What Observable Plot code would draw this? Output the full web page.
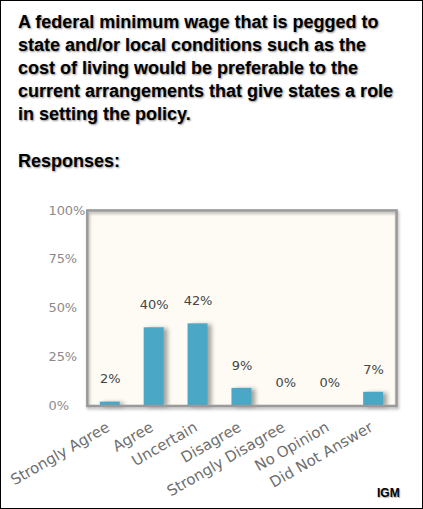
<!DOCTYPE html>
<html>
<head>
<meta charset="utf-8">
<script src="https://cdn.jsdelivr.net/npm/d3@7"></script>
<script src="https://cdn.jsdelivr.net/npm/@observablehq/plot@0.6"></script>
<style>
  html, body { margin: 0; padding: 0; background: #fff; }
  #wrap { position: relative; width: 423px; height: 509px; box-sizing: border-box; border: 1px solid #000; background: #fff; overflow: hidden; }
  #title { position: absolute; left: 17px; top: 10px; font-family: "Liberation Sans", Arial, sans-serif; font-weight: bold; font-size: 18px; line-height: 23px; color: #000; white-space: nowrap; text-shadow: 1px 1px 2px rgba(0,0,0,0.45); }
  #resp { position: absolute; left: 17px; top: 149px; font-family: "Liberation Sans", Arial, sans-serif; font-weight: bold; font-size: 18px; line-height: 23px; color: #000; text-shadow: 1px 1px 2px rgba(0,0,0,0.45); }
  #chart { position: absolute; left: -1px; top: 189px; }
  #igm { position: absolute; left: 376px; top: 485px; font-family: "Liberation Sans", Arial, sans-serif; font-weight: bold; font-size: 12px; color: #000; text-shadow: 1px 1px 1px rgba(0,0,0,0.35); }
</style>
</head>
<body>
<div id="wrap">
  <div id="title">A federal minimum wage that is pegged to<br>state and/or local conditions such as the<br>cost of living would be preferable to the<br>current arrangements that give states a role<br>in setting the policy.</div>
  <div id="resp">Responses:</div>
  <div id="chart"></div>
  <div id="igm">IGM</div>
</div>
<script>
const categories = ["Strongly Agree", "Agree", "Uncertain", "Disagree", "Strongly Disagree", "No Opinion", "Did Not Answer"];
const values = [2, 40, 42, 9, 0, 0, 7];
const yTicks = [0, 25, 50, 75, 100];

const data = categories.map((c, i) => ({category: c, value: values[i]}));

const plot = Plot.plot({
  width: 423,
  height: 316,
  marginLeft: 87,
  marginRight: 26,
  marginTop: 20,
  marginBottom: 100,
  style: {fontFamily: "DejaVu Sans, Verdana, sans-serif", fontSize: "13px", background: "transparent"},
  x: {domain: categories, paddingInner: 0.55, paddingOuter: 0.275, label: null, axis: null},
  y: {domain: [0, 100], label: null},
  marks: [
    Plot.frame({fill: "#fdfbf3", stroke: null}),
    Plot.barY(data, {x: "category", y: "value", fill: "#4aa8c6", className: "bars"}),
    Plot.frame({stroke: "#9a9a9a", strokeWidth: 2.5, className: "frm"}),
    Plot.text(data, {x: "category", y: "value", text: d => d.value + "%", dy: -23, fill: "#444", fontSize: 13}),
    Plot.axisY({ticks: yTicks, tickFormat: d => d + "%", tickSize: 0, tickPadding: 0, textAnchor: "start", dx: -39, fill: "#8a8a8a", fontSize: 13, label: null}),
    Plot.text(categories, {x: d => d, text: d => d, frameAnchor: "bottom", rotate: -30, textAnchor: "end", lineAnchor: "middle", dx: -2, dy: 20, fill: "#6e6e6e", fontSize: 15})
  ]
});
document.getElementById("chart").appendChild(plot);
d3.select(plot).selectAll(".bars").style("filter", "drop-shadow(4px 1px 2px rgba(0,0,0,0.35))");
d3.select(plot).selectAll(".frm").style("filter", "drop-shadow(1px 2px 1.5px rgba(0,0,0,0.3))");
</script>
</body>
</html>
